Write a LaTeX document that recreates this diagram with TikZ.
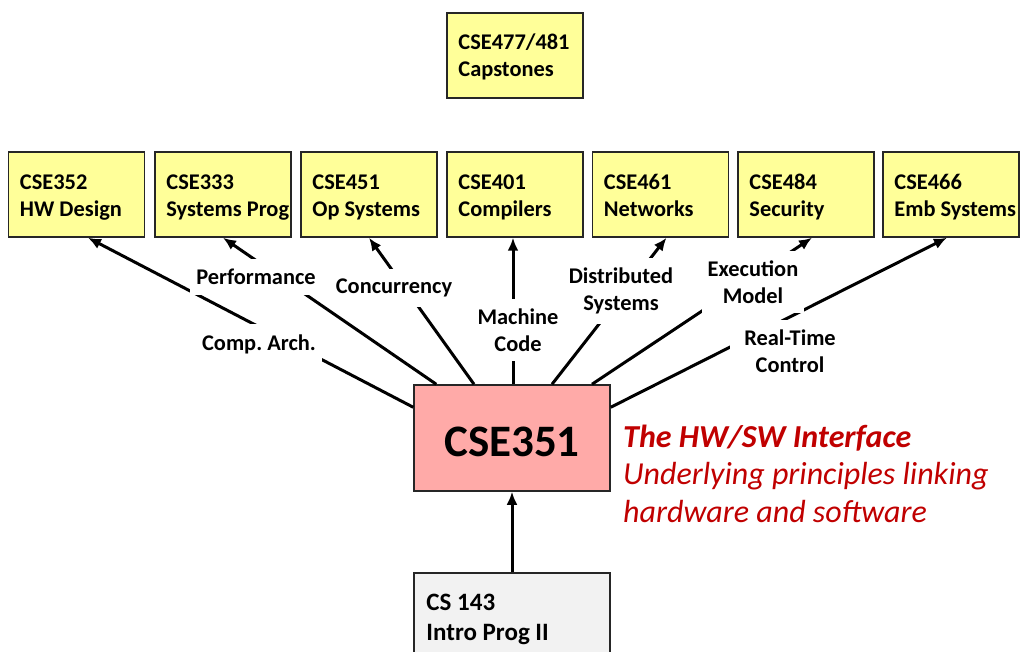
\documentclass[tikz,border=0pt]{standalone}
\usepackage{fontspec}
\setmainfont{Carlito}
\usetikzlibrary{arrows.meta,calc}
\definecolor{boxyellow}{HTML}{FFFF99}
\definecolor{boxpink}{HTML}{FFAAA8}
\definecolor{boxgray}{HTML}{F2F2F2}
\definecolor{boxborder}{HTML}{262626}
\definecolor{redtext}{HTML}{C00000}
\frenchspacing
\begin{document}
\begin{tikzpicture}[x=1pt,y=-1pt,
  course/.style={draw=boxborder, line width=1.5pt, fill=boxyellow, minimum width=136pt, minimum height=85pt, inner sep=0pt},
  coursetxt/.style={anchor=base west, align=left, inner sep=0pt, font=\fontsize{22.4}{27}\selectfont\bfseries},
  link/.style={line width=3pt, -{Latex[length=13pt,width=11pt]}},
  lbl/.style={fill=white, inner xsep=6pt, inner ysep=10pt, align=center, font=\fontsize{22.4}{26.5}\selectfont\bfseries},
]
\useasboundingbox (0,0) rectangle (1021,652);

% course boxes
\node[course] (cap) at (515,55.5) {};
\node[course] (c352) at (76.5,194.5) {};
\node[course] (c333) at (223,194.5) {};
\node[course] (c451) at (369,194.5) {};
\node[course] (c401) at (515,194.5) {};
\node[course] (c461) at (660.5,194.5) {};
\node[course] (c484) at (806,194.5) {};
\node[course] (c466) at (951,194.5) {};
\node[course, fill=boxpink, minimum width=196pt, minimum height=106pt] (c351) at (512,438) {};
\node[course, fill=boxgray, minimum width=196pt, minimum height=110pt] (c143) at (512,628) {};

% box texts (anchor = baseline of the last line)
\node[coursetxt] (tcap) at ($(cap.north west)+(12,64)$) {CSE477/481\\Capstones};
\node[coursetxt] (t352) at ($(c352.north west)+(12,65)$) {CSE352\\HW Design};
\node[coursetxt] (t333) at ($(c333.north west)+(12,65)$) {CSE333\\Systems Prog};
\node[coursetxt] (t451) at ($(c451.north west)+(12,65)$) {CSE451\\Op Systems};
\node[coursetxt] (t401) at ($(c401.north west)+(12,65)$) {CSE401\\Compilers};
\node[coursetxt] (t461) at ($(c461.north west)+(12,65)$) {CSE461\\Networks};
\node[coursetxt] (t484) at ($(c484.north west)+(12,65)$) {CSE484\\Security};
\node[coursetxt] (t466) at ($(c466.north west)+(12,65)$) {CSE466\\Emb Systems};
\node[coursetxt, font=\fontsize{25}{30}\selectfont\bfseries] (t143) at ($(c143.north west)+(13,68)$) {CS 143\\Intro Prog II};
\node[anchor=base, inner sep=0pt, font=\fontsize{45}{50}\selectfont\bfseries] (t351) at ($(c351.south)+(0,-35)$) {CSE351};

% red description
\node[anchor=base west, align=left, inner sep=0pt, text=redtext, font=\fontsize{32}{37.5}\selectfont\itshape] (desc) at (623,522)
  {\textbf{The HW/SW Interface}\\Underlying principles linking\\hardware and software};

% connectors
\draw[link] ($(c351.north west)+(0,23)$) -- ($(c352.south)+(11.5,0)$);
\draw[link] ($(c351.north west)+(23,0)$) -- (c333.south);
\draw[link] ($(c351.north)+(-38,0)$) -- (c451.south);
\draw[link] ($(c351.north)+(1,0)$) -- ($(c401.south)+(-2,0)$);
\draw[link] ($(c351.north)+(40,0)$) -- ($(c461.south)+(6,0)$);
\draw[link] ($(c351.north)+(80,0)$) -- ($(c484.south)+(6,0)$);
\draw[link] ($(c351.north east)+(0,23)$) -- ($(c466.south)+(-4,0)$);
\draw[link] (c143.north) -- (c351.south);

% connector labels
\node[lbl] (lperf) at (256,277) {Performance};
\node[lbl] (lconc) at (394,288) {Concurrency};
\node[lbl] (larch) at (259,344) {Comp. Arch.};
\node[lbl] (lmach) at (518,330) {Machine\\Code};
\node[lbl] (ldist) at (621,291) {Distributed\\Systems};
\node[lbl] (lexec) at (753,282) {Execution\\Model};
\node[lbl, inner xsep=14pt] (lreal) at (790,351) {Real-Time\\Control};
\end{tikzpicture}
\end{document}
